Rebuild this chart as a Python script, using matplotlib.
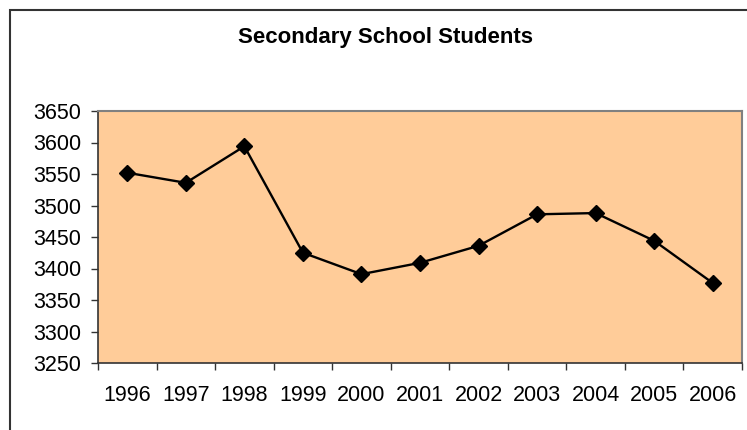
import matplotlib
matplotlib.use("Agg")
import matplotlib.pyplot as plt
from matplotlib.patches import Rectangle
import numpy as np

years = ["1996", "1997", "1998", "1999", "2000", "2001", "2002", "2003", "2004", "2005", "2006"]
students = [3552, 3536, 3594, 3425, 3391, 3409, 3436, 3486, 3488, 3444, 3377]
yticks = [3250, 3300, 3350, 3400, 3450, 3500, 3550, 3600, 3650]

plt.rcParams['font.family'] = ['Liberation Sans', 'DejaVu Sans']

W, H = 747, 430
fig = plt.figure(figsize=(W / 100, H / 100), dpi=100)
fig.patch.set_facecolor('white')

# chart-area border (left/top visible, right/bottom run off image)
fig.add_artist(Rectangle((10 / W, -0.05), 1.1, (H - 10) / H + 0.05, transform=fig.transFigure,
                         fill=False, edgecolor='#333333', linewidth=1.5))

left, right, top, bottom = 98, 742, 111, 363
ax = fig.add_axes([left / W, 1 - bottom / H, (right - left) / W, (bottom - top) / H])
ax.set_facecolor('#FFCC99')

x = np.arange(len(years))
ax.plot(x, students, color='black', linewidth=1.7, marker='D', markersize=8,
        markerfacecolor='black', markeredgecolor='black')

ax.set_xlim(-0.5, len(years) - 0.5)
ax.set_ylim(yticks[0], yticks[-1])
ax.set_yticks(yticks)
ax.set_yticklabels([str(v) for v in yticks], fontsize=15.5)
ax.set_xticks(x)
ax.set_xticklabels(years, fontsize=15.5)
ax.tick_params(axis='x', length=0, pad=16)
ax.set_xticks(np.arange(len(years) + 1) - 0.5, minor=True)
ax.tick_params(axis='x', which='minor', length=5, color='#333333', width=1)
ax.tick_params(axis='y', length=5, color='#333333', width=1, pad=7)

for s in ['top', 'right']:
    ax.spines[s].set_color('#808080')
    ax.spines[s].set_linewidth(1.5)
for s in ['left', 'bottom']:
    ax.spines[s].set_color('#333333')
    ax.spines[s].set_linewidth(1.2)

fig.text(385 / W, 1 - 38 / H, "Secondary School Students", ha='center', va='center',
         fontsize=16, fontweight='bold')

fig.savefig("out.png", dpi=100)
